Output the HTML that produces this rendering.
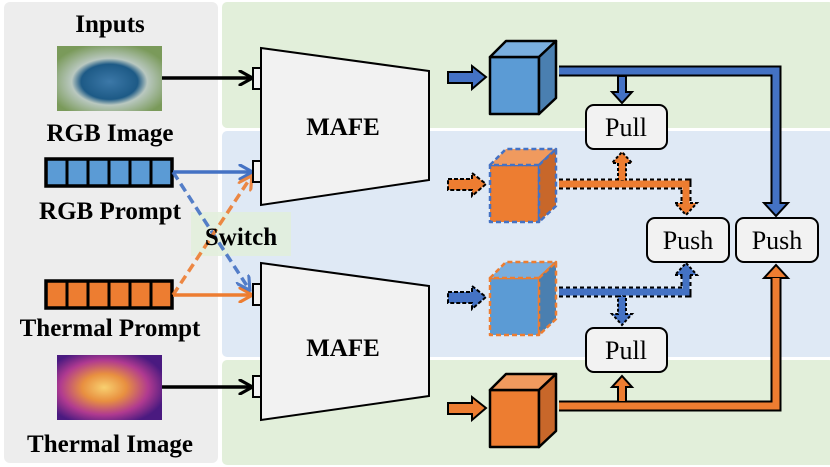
<!DOCTYPE html>
<html><head><meta charset="utf-8"><style>
html,body{margin:0;padding:0;background:#fff;}
svg{display:block;}
text{font-family:"Liberation Serif",serif;}
</style></head><body>
<svg width="830" height="467" viewBox="0 0 830 467" xmlns="http://www.w3.org/2000/svg">
<defs>
<radialGradient id="rgbimg" cx="0.5" cy="0.55" r="0.6">
<stop offset="0" stop-color="#3c78a8"/><stop offset="0.45" stop-color="#1d5a86"/><stop offset="0.6" stop-color="#b9c8c0"/><stop offset="1" stop-color="#7a9a5a"/>
</radialGradient>
<radialGradient id="thimg" cx="0.45" cy="0.5" r="0.6">
<stop offset="0" stop-color="#f8d070"/><stop offset="0.35" stop-color="#e89040"/><stop offset="0.7" stop-color="#b03a90"/><stop offset="1" stop-color="#4a1a80"/>
</radialGradient>
<marker id="ab" viewBox="0 0 10 10" refX="8" refY="5" markerWidth="4.5" markerHeight="4.5" orient="auto"><path d="M0,0 L9,5 L0,10" fill="none" stroke="#4472c4" stroke-width="2"/></marker>
<marker id="ao" viewBox="0 0 10 10" refX="8" refY="5" markerWidth="4.5" markerHeight="4.5" orient="auto"><path d="M0,0 L9,5 L0,10" fill="none" stroke="#ed7d31" stroke-width="2"/></marker>
<marker id="ak" viewBox="0 0 10 10" refX="8" refY="5" markerWidth="4.5" markerHeight="4.5" orient="auto"><path d="M0,0 L9,5 L0,10" fill="none" stroke="#000" stroke-width="2"/></marker>
</defs>
<rect x="4" y="2" width="214" height="461" rx="6" fill="#ededed"/>
<rect x="222" y="2" width="612" height="126" rx="5" fill="#e2efda"/>
<rect x="222" y="131" width="612" height="226" rx="5" fill="#dfe9f5"/>
<rect x="222" y="360" width="612" height="105" rx="5" fill="#e2efda"/>

<g font-weight="bold" font-size="25" text-anchor="middle" fill="#000">
<text x="110" y="32">Inputs</text>
<text x="110" y="141">RGB Image</text>
<text x="110" y="219">RGB Prompt</text>
<text x="110" y="336">Thermal Prompt</text>
<text x="110" y="452">Thermal Image</text>
</g>
<rect x="57" y="46" width="105" height="65" fill="url(#rgbimg)"/>
<rect x="57" y="355" width="105" height="65" fill="url(#thimg)"/>
<g stroke="#000" stroke-width="3.5">
<rect x="46" y="159" width="126" height="27" fill="#5b9bd5"/>
<rect x="46" y="281" width="126" height="27" fill="#ed7d31"/>
</g>
<g stroke="#000" stroke-width="3">
<path d="M67,159V186M88,159V186M109,159V186M130,159V186M151,159V186"/>
<path d="M67,281V308M88,281V308M109,281V308M130,281V308M151,281V308"/>
</g>
<rect x="191" y="212" width="100" height="44" fill="#e2efda" opacity="0.85"/>
<line x1="162" y1="78" x2="251" y2="78" stroke="#000" stroke-width="3.5" marker-end="url(#ak)"/>
<line x1="162" y1="387" x2="251" y2="387" stroke="#000" stroke-width="3.5" marker-end="url(#ak)"/>
<line x1="173" y1="172" x2="251" y2="172" stroke="#4472c4" stroke-width="3.5" marker-end="url(#ab)"/>
<line x1="173" y1="295" x2="251" y2="295" stroke="#ed7d31" stroke-width="3.5" marker-end="url(#ao)"/>
<line x1="173" y1="172" x2="249" y2="289" stroke="#4472c4" stroke-width="3.5" stroke-dasharray="9 5" marker-end="url(#ab)" opacity="0.9"/>
<line x1="173" y1="295" x2="251" y2="177" stroke="#ed7d31" stroke-width="3.5" stroke-dasharray="9 5" marker-end="url(#ao)" opacity="0.9"/>
<text x="241" y="245" font-weight="bold" font-size="25" text-anchor="middle">Switch</text>

<g fill="#f2f2f2" stroke="#000" stroke-width="2">
<polygon points="261,48 429,71 429,180 261,205"/>
<polygon points="261,263 429,286 429,396 261,420"/>
<rect x="253" y="68" width="8" height="21"/>
<rect x="253" y="161" width="8" height="21"/>
<rect x="253" y="284" width="8" height="21"/>
<rect x="253" y="376" width="8" height="21"/>
</g>
<g font-weight="bold" font-size="25" text-anchor="middle">
<text x="343" y="135">MAFE</text>
<text x="343" y="356">MAFE</text>
</g>

<g stroke="#000" stroke-width="2">
<polygon points="448,72 472,72 472,66 486,77 472,89 472,83 448,83" fill="#4472c4"/>
<polygon points="448,179 472,179 472,173 486,184 472,196 472,190 448,190" fill="#ed7d31" stroke-dasharray="4 2"/>
<polygon points="448,292 472,292 472,286 486,297 472,309 472,303 448,303" fill="#4472c4" stroke-dasharray="4 2"/>
<polygon points="448,403 472,403 472,397 486,408 472,420 472,414 448,414" fill="#ed7d31"/>
</g>

<g stroke="#000" stroke-width="2.5" stroke-linejoin="round">
<rect x="490" y="57" width="49" height="57" fill="#5b9bd5"/>
<polygon points="490,57 506,41 556,41 539,57" fill="#7aaede"/>
<polygon points="539,57 556,41 556,98 539,114" fill="#4a7fb0"/>
</g>
<g stroke="#4472c4" stroke-width="2.5" stroke-dasharray="5 3" stroke-linejoin="round">
<rect x="490" y="165" width="49" height="57" fill="#ed7d31"/>
<polygon points="490,165 506,149 556,149 539,165" fill="#f09a5e"/>
<polygon points="539,165 556,149 556,206 539,222" fill="#c8672a"/>
</g>
<g stroke="#ed7d31" stroke-width="2.5" stroke-dasharray="5 3" stroke-linejoin="round">
<rect x="490" y="278" width="49" height="57" fill="#5b9bd5"/>
<polygon points="490,278 506,262 556,262 539,278" fill="#7aaede"/>
<polygon points="539,278 556,262 556,319 539,335" fill="#4a7fb0"/>
</g>
<g stroke="#000" stroke-width="2.5" stroke-linejoin="round">
<rect x="490" y="390" width="49" height="57" fill="#ed7d31"/>
<polygon points="490,390 506,374 556,374 539,390" fill="#f09a5e"/>
<polygon points="539,390 556,374 556,431 539,447" fill="#c8672a"/>
</g>

<path d="M559,71 H776 V205" fill="none" stroke="#000" stroke-width="11"/>
<polygon points="618,76 626,76 626,92 632,92 622,103 612,92 618,92" fill="#4472c4" stroke="#000" stroke-width="2"/>
<polygon points="764,203 788,203 776,216" fill="#4472c4" stroke="#000" stroke-width="2"/>
<path d="M559,71 H776 V205" fill="none" stroke="#4472c4" stroke-width="7"/>
<path d="M559,184 H686 V205" fill="none" stroke="#000" stroke-width="11" stroke-dasharray="4 3"/>
<polygon points="618,181 618,163 612,163 622,152 632,163 626,163 626,181" fill="#ed7d31" stroke="#000" stroke-width="2" stroke-dasharray="3 2"/>
<polygon points="675,203 697,203 686,215" fill="#ed7d31" stroke="#000" stroke-width="2" stroke-dasharray="3 2"/>
<path d="M559,184 H686 V205" fill="none" stroke="#ed7d31" stroke-width="7"/>
<path d="M559,292 H686 V273" fill="none" stroke="#000" stroke-width="11" stroke-dasharray="4 3"/>
<polygon points="618,296 626,296 626,314 632,314 622,325 612,314 618,314" fill="#4472c4" stroke="#000" stroke-width="2" stroke-dasharray="3 2"/>
<polygon points="675,275 697,275 686,263" fill="#4472c4" stroke="#000" stroke-width="2" stroke-dasharray="3 2"/>
<path d="M559,292 H686 V274" fill="none" stroke="#4472c4" stroke-width="7"/>
<path d="M559,406 H776 V277" fill="none" stroke="#000" stroke-width="11"/>
<polygon points="618,402 618,387 612,387 622,376 632,387 626,387 626,402" fill="#ed7d31" stroke="#000" stroke-width="2"/>
<polygon points="764,278 788,278 776,265" fill="#ed7d31" stroke="#000" stroke-width="2"/>
<path d="M559,406 H776 V278" fill="none" stroke="#ed7d31" stroke-width="7"/>

<g fill="#f2f2f2" stroke="#000" stroke-width="2">
<rect x="586" y="105" width="81" height="44" rx="8"/>
<rect x="586" y="328" width="81" height="44" rx="8"/>
<rect x="647" y="218" width="82" height="44" rx="8"/>
<rect x="736" y="218" width="82" height="44" rx="8"/>
</g>
<g font-size="26" text-anchor="middle">
<text x="626" y="136">Pull</text>
<text x="626" y="359">Pull</text>
<text x="688" y="249">Push</text>
<text x="777" y="249">Push</text>
</g>
</svg>
</body></html>
